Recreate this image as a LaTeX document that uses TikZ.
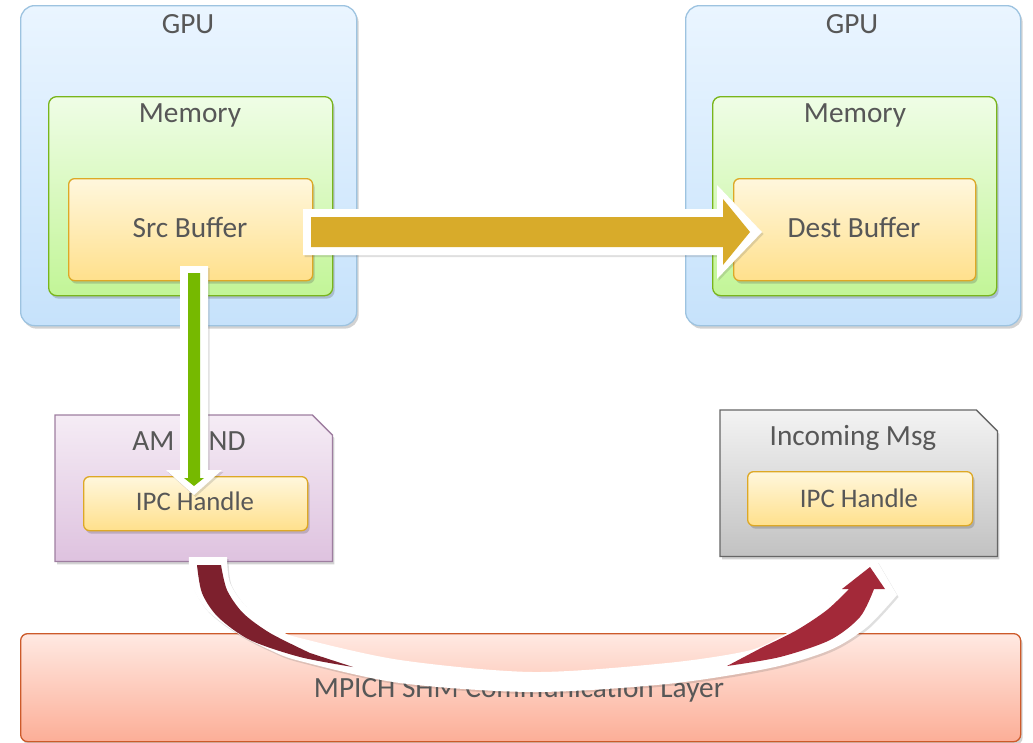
\documentclass[tikz,border=0pt]{standalone}
\usepackage{fontspec}
\setmainfont{Carlito}
\usetikzlibrary{shadows,calc}
\definecolor{txt}{HTML}{575757}
\definecolor{gpuT}{HTML}{EAF5FF}
\definecolor{gpuBt}{HTML}{C6E2FB}
\definecolor{gpuD}{HTML}{9DC3E0}
\definecolor{memT}{HTML}{EFFDE6}
\definecolor{memBt}{HTML}{C2F597}
\definecolor{memD}{HTML}{79B51C}
\definecolor{bufT}{HTML}{FFF7DD}
\definecolor{bufBt}{HTML}{FFE08C}
\definecolor{bufD}{HTML}{DDA826}
\definecolor{amT}{HTML}{F5ECF5}
\definecolor{amBt}{HTML}{DEC2DF}
\definecolor{amD}{HTML}{9E7EA0}
\definecolor{inT}{HTML}{F3F3F3}
\definecolor{inBt}{HTML}{C2C2C2}
\definecolor{inD}{HTML}{666666}
\definecolor{mpT}{HTML}{FFE9E2}
\definecolor{mpBt}{HTML}{FCAE97}
\definecolor{mpD}{HTML}{CC5A2A}
\definecolor{goldA}{HTML}{D8AB2A}
\definecolor{greenA}{HTML}{76B900}
\definecolor{redL}{HTML}{7D202D}
\definecolor{redR}{HTML}{A32939}
\begin{document}
\begin{tikzpicture}[x=1pt,y=-1pt,
  shd/.style={drop shadow={shadow xshift=2pt,shadow yshift=-3pt,opacity=0.25,fill=black!70}},
  box/.style={draw,line width=1.3pt,inner sep=0pt,anchor=north west,shd},
  gpubox/.style={box,rounded corners=14pt,draw=gpuD,top color=gpuT,bottom color=gpuBt},
  membox/.style={box,rounded corners=8pt,draw=memD,top color=memT,bottom color=memBt},
  bufbox/.style={box,rounded corners=6pt,draw=bufD,top color=bufT,bottom color=bufBt},
  area/.style={inner sep=0pt,anchor=north west},
  cutpath/.style={draw,line width=1.3pt,shd},
  lbl/.style={text=txt,font=\fontsize{29.3}{31}\selectfont,inner sep=0pt,anchor=base},
  slbl/.style={lbl,font=\fontsize{26.8}{28}\selectfont},
  wshape/.style={fill=white,drop shadow={shadow xshift=1.5pt,shadow yshift=-2pt,opacity=0.18,fill=black!70}}
]
\useasboundingbox (0,0) rectangle (1033,742);

% left GPU
\node[gpubox,minimum width=336,minimum height=320] (gpuL) at (20,5) {};
\node[membox,minimum width=284,minimum height=199] (memL) at (48,96) {};
\node[bufbox,minimum width=244,minimum height=102] (src) at (68,178) {};
\node[lbl] (gpuLt) at (188,33) {GPU};
\node[lbl] (memLt) at (190,122) {Memory};
\node[lbl] (srct) at (190,237) {Src Buffer};

% right GPU
\node[gpubox,minimum width=335,minimum height=320] (gpuR) at (685,5) {};
\node[membox,minimum width=284,minimum height=199] (memR) at (712,96) {};
\node[bufbox,minimum width=242,minimum height=102] (dst) at (733,178) {};
\node[lbl] (gpuRt) at (852,33) {GPU};
\node[lbl] (memRt) at (855,122) {Memory};
\node[lbl] (dstt) at (854,237) {Dest Buffer};

% AM SEND
\node[area,minimum width=277,minimum height=146] (am) at (55,415) {};
\path[cutpath,draw=amD,top color=amT,bottom color=amBt]
  (am.north west) -- ($(am.north east)+(-20,0)$) -- ($(am.north east)+(0,20)$) -- (am.south east) -- (am.south west) -- cycle;
\node[bufbox,minimum width=224,minimum height=54] (ipcL) at (83,476) {};
\node[lbl] (amt) at (189,450) {AM SEND};
\node[slbl] (ipcLt) at (195,510) {IPC Handle};

% Incoming Msg
\node[area,minimum width=277,minimum height=146] (inc) at (720,410) {};
\path[cutpath,draw=inD,top color=inT,bottom color=inBt]
  (inc.north west) -- ($(inc.north east)+(-21,0)$) -- ($(inc.north east)+(0,21)$) -- (inc.south east) -- (inc.south west) -- cycle;
\node[bufbox,minimum width=225,minimum height=54] (ipcR) at (747,471) {};
\node[lbl] (inct) at (853,445) {Incoming Msg};
\node[slbl] (ipcRt) at (859,507) {IPC Handle};

% MPICH layer
\node[box,rounded corners=7pt,draw=mpD,top color=mpT,bottom color=mpBt,minimum width=1000,minimum height=108] (mp) at (20,633) {};
\node[lbl] (mpt) at (519,697) {MPICH SHM Communication Layer};

% gold arrow src -> dest
\coordinate (gS) at (303,232);
\path[wshape,shift={(gS)}] (0,-23) -- (414,-23) -- (414,-47) -- (459,0) -- (414,47) -- (414,23) -- (0,23) -- cycle;
\fill[goldA,shift={(gS)}] (8,-15) -- (420,-15) -- (420,-33) -- (447,0) -- (420,33) -- (420,15) -- (8,15) -- cycle;

% green arrow src -> ipc handle
\coordinate (vS) at (194,266);
\path[wshape,shift={(vS)}] (-14,0) -- (14,0) -- (14,204) -- (28,204) -- (0,229) -- (-28,204) -- (-14,204) -- cycle;
\fill[greenA,shift={(vS)}] (-6,7) -- (6,7) -- (6,212) -- (10,212) -- (0,220) -- (-10,212) -- (-6,212) -- cycle;

% curved red arrow am -> incoming
\path[wshape] plot[smooth] coordinates {(189,557) (191,583) (207,610) (237,633) (270,650) (300,661) (400,683) (533,692) (667,684) (770,668) (830,650) (867,627) (897,595)}
  -- (877,561) -- (827,593)
  -- plot[smooth] coordinates {(830,600) (813,617) (780,637) (747,651) (667,663) (533,672) (400,660) (300,638) (280,630) (247,607) (230,583) (227,557)} -- cycle;
\fill[redL] plot[smooth] coordinates {(197,565) (202,593) (218,617) (250,640) (300,657) (353,667)}
  -- plot[smooth] coordinates {(310,653) (270,633) (243,613) (227,590) (221,565)} -- cycle;
\fill[redR] (842,589) -- (870,567) -- (885,589)
  -- plot[smooth] coordinates {(874,589) (860,617) (830,640) (780,657) (727,666)}
  -- plot[smooth] coordinates {(763,647) (797,630) (827,610) (849,589)} -- cycle;
\end{tikzpicture}
\end{document}
